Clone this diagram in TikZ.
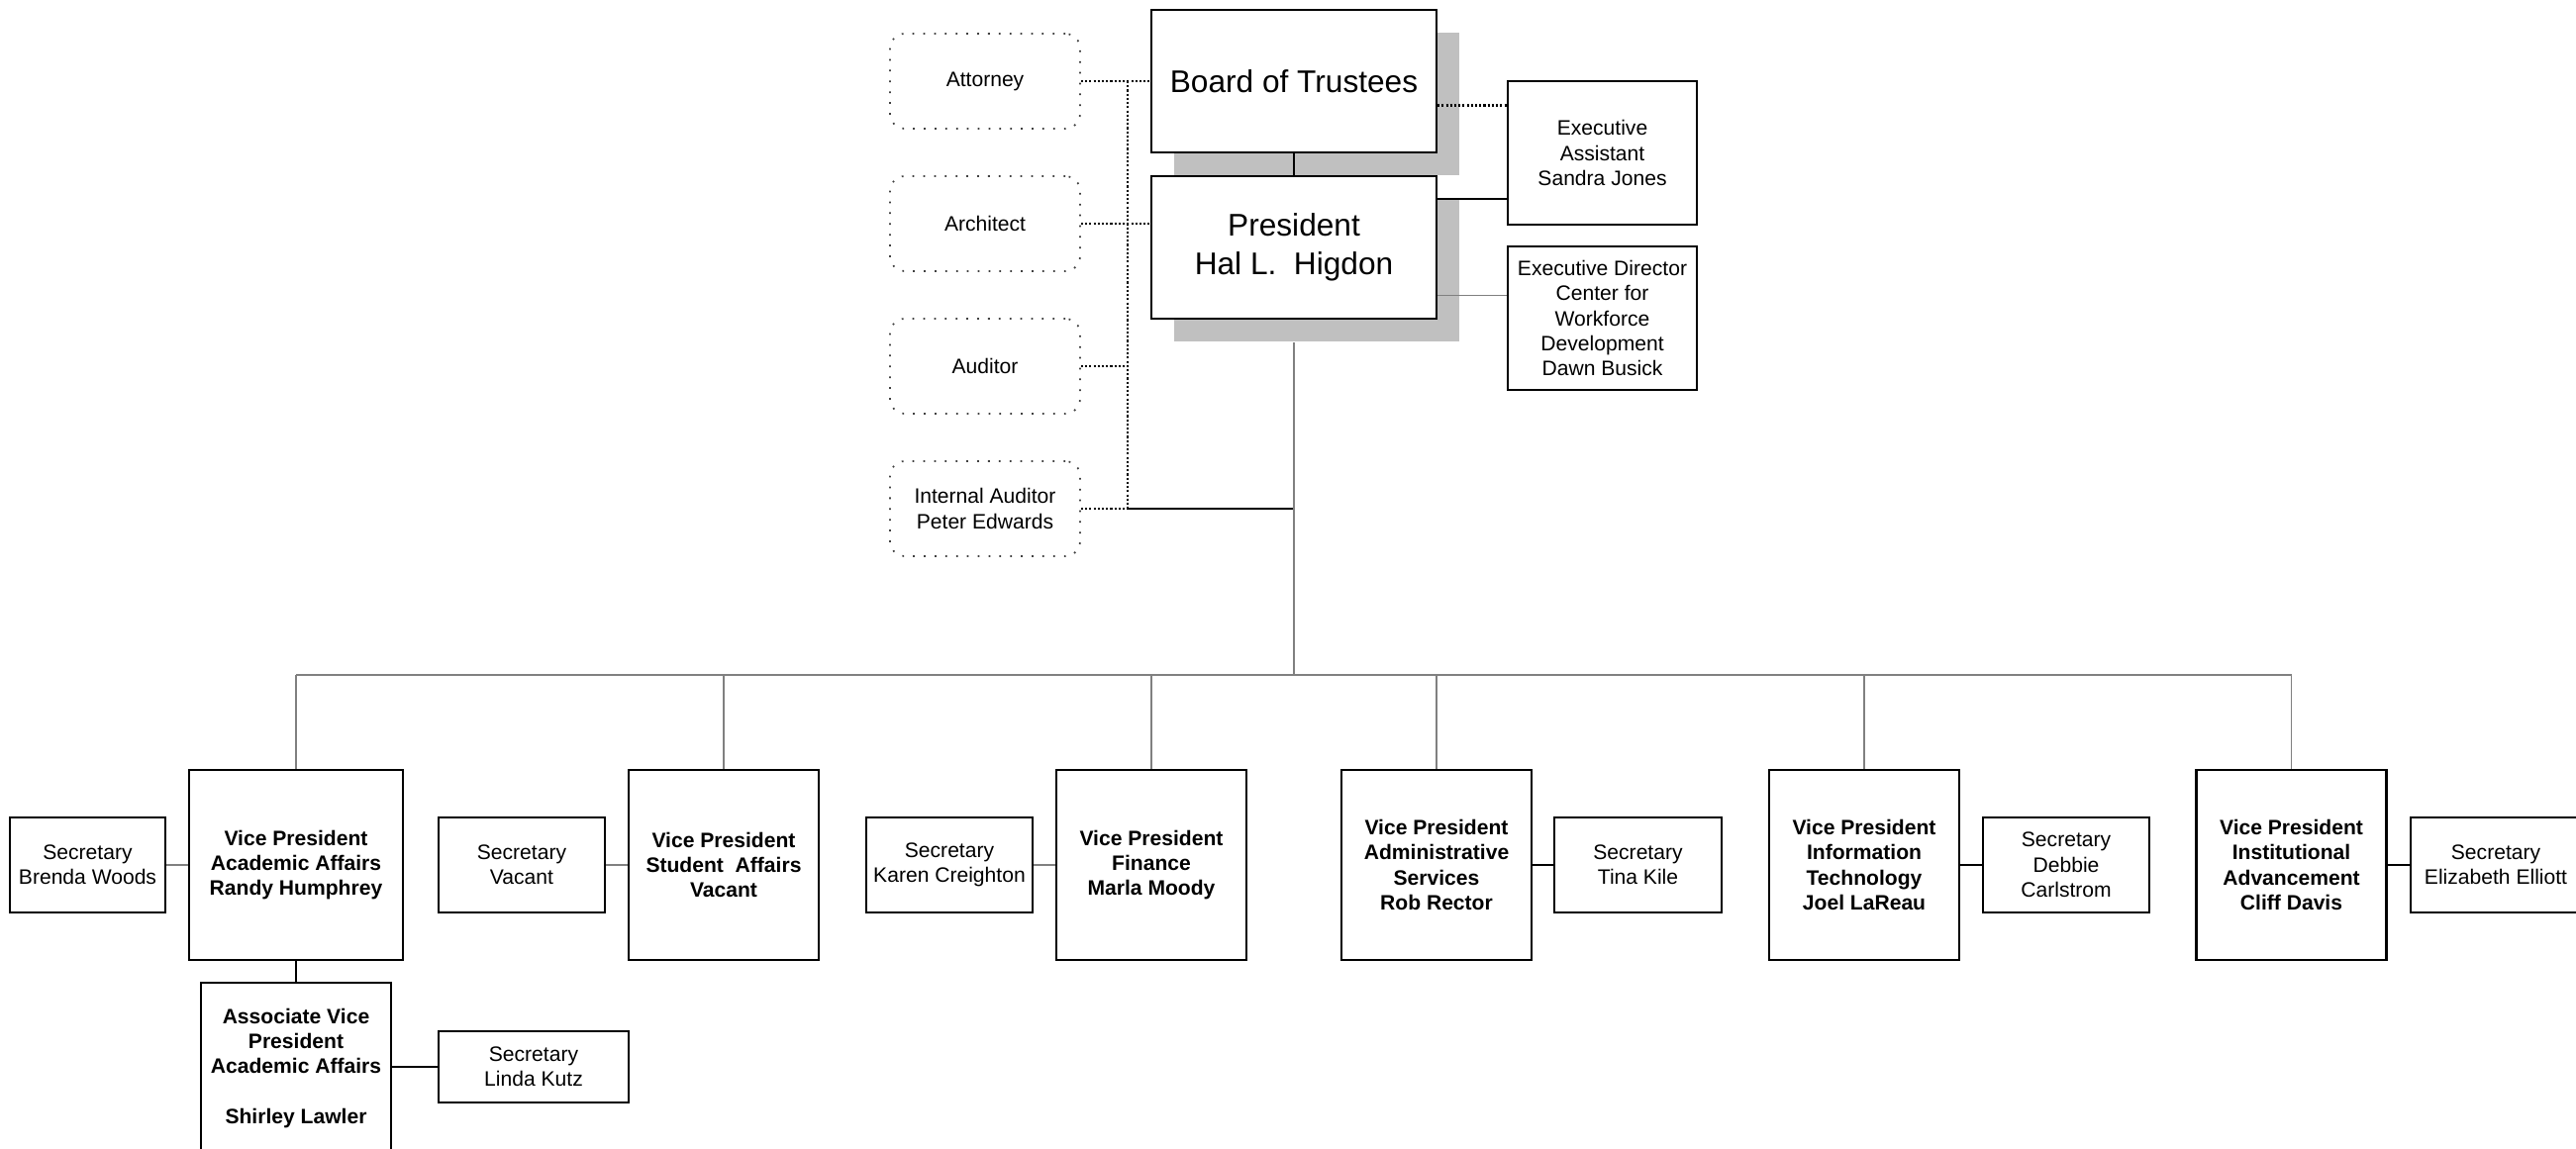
\documentclass[tikz,border=0pt]{standalone}
\usepackage{fontspec}
\setmainfont{Liberation Sans}
\usetikzlibrary{calc,shadows}
\definecolor{shadowgray}{HTML}{C0C0C0}
\definecolor{linkgray}{HTML}{808080}
\newcommand{\chartsmall}{\fontsize{6}{7.2}\selectfont}
\newcommand{\chartbig}{\fontsize{9}{11}\selectfont}

\begin{document}
\begin{tikzpicture}[
    every node/.style={font=\chartsmall},
    box/.style={draw, line width=0.6pt, fill=white, align=center, inner sep=1pt},
    topbox/.style={box, minimum width=2.88cm, minimum height=1.44cm, font=\chartbig,
        drop shadow={shadow xshift=0.23cm, shadow yshift=-0.23cm, fill=shadowgray, opacity=1}},
    staffbox/.style={box, minimum width=1.91cm, minimum height=1.45cm},
    advisor/.style={draw=black!75, line width=0.5pt, dash pattern=on 0.5pt off 2.6pt,
        rounded corners=0.15cm, align=center, minimum width=1.92cm, minimum height=0.96cm},
    vpbox/.style={box, minimum width=1.92cm, minimum height=1.92cm, font=\chartsmall\bfseries},
    secbox/.style={box, minimum height=0.96cm},
    link/.style={black, line width=0.6pt},
    greylink/.style={linkgray, line width=0.45pt},
    dotlink/.style={black, line width=0.7pt, dash pattern=on 0.6pt off 0.6pt}
]
    \useasboundingbox (0,0) rectangle (26.02,-11.60);

    % === TOP LEVEL ===
    \node[advisor] (attorney) at (9.95,-0.82) {Attorney};
    \node[advisor] (architect) at (9.95,-2.26) {Architect};
    \node[advisor] (auditor) at (9.95,-3.70) {Auditor};
    \node[advisor] (intaudit) at (9.95,-5.14) {Internal Auditor\\Peter Edwards};

    \node[topbox] (board) at (13.07,-0.82) {Board of Trustees};
    \node[topbox] (pres) at (13.07,-2.50) {President\\Hal L.\ \ Higdon};

    \node[staffbox] (asst) at (16.185,-1.545) {Executive\\Assistant\\Sandra Jones};
    \node[staffbox] (execdir) at (16.185,-3.215) {Executive Director\\Center for\\Workforce\\Development\\Dawn Busick};

    % === VICE PRESIDENTS ===
    \node[vpbox, minimum width=2.16cm] (vpacad) at (2.99,-8.74) {Vice President\\Academic Affairs\\Randy Humphrey};
    \node[vpbox] (vpstud) at (7.31,-8.74) {Vice President\\Student\ \ Affairs\\Vacant};
    \node[vpbox] (vpfin) at (11.63,-8.74) {Vice President\\Finance\\Marla Moody};
    \node[vpbox] (vpadmin) at (14.51,-8.74) {Vice President\\Administrative\\Services\\Rob Rector};
    \node[vpbox] (vpit) at (18.83,-8.74) {Vice President\\Information\\Technology\\Joel LaReau};
    \node[vpbox] (vpadv) at (23.145,-8.74) {Vice President\\Institutional\\Advancement\\Cliff Davis};

    % Secretaries
    \node[secbox, minimum width=1.57cm] (secacad) at (0.885,-8.74) {Secretary\\Brenda Woods};
    \node[secbox, minimum width=1.68cm] (secstud) at (5.27,-8.74) {Secretary\\Vacant};
    \node[secbox, minimum width=1.68cm] (secfin) at (9.59,-8.74) {Secretary\\Karen Creighton};
    \node[secbox, minimum width=1.69cm] (secadmin) at (16.545,-8.74) {Secretary\\Tina Kile};
    \node[secbox, minimum width=1.68cm] (secit) at (20.87,-8.74) {Secretary\\Debbie\\Carlstrom};
    \node[secbox, minimum width=1.72cm] (secadv) at (25.21,-8.74) {Secretary\\Elizabeth Elliott};

    % Associate level
    \node[vpbox, minimum height=1.73cm] (assoc) at (2.99,-10.795) {Associate Vice\\President\\Academic Affairs\\[7.2pt]Shirley Lawler};
    \node[box, minimum width=1.92cm, minimum height=0.72cm] (seclinda) at (5.39,-10.78) {Secretary\\Linda Kutz};

    % === CONNECTORS ===
    \coordinate (dotx) at (11.39,-0.82);
    \draw[dotlink] (attorney.east) -- (board.west);
    \draw[dotlink] (architect.east) -- (architect.east -| pres.west);
    \draw[dotlink] (auditor.east) -- (auditor.east -| dotx);
    \draw[dotlink] (intaudit.east) -- (intaudit.east -| dotx);
    \draw[dotlink] (dotx) -- (intaudit.east -| dotx);
    \draw[link] (intaudit.east -| dotx) -- (intaudit.east -| pres.south);

    \draw[link] (board) -- (pres);
    \coordinate (bt) at ($(board.north east)!0.667!(board.south east)$);
    \draw[dotlink] (bt) -- (bt -| asst.west);
    \coordinate (pa) at ($(pres.north east)!0.167!(pres.south east)$);
    \draw[link] (pa) -- (pa -| asst.west);
    \coordinate (pd) at ($(pres.north east)!0.833!(pres.south east)$);
    \draw[greylink] (pd) -- (pd -| execdir.west);

    % Bus to the vice presidents
    \coordinate (bus) at (13.07,-6.82);
    \draw[greylink] ([yshift=-0.23cm]pres.south) -- (bus);
    \draw[greylink] (vpacad.north |- bus) -- (vpadv.north |- bus);
    \foreach \vp in {vpacad,vpstud,vpfin,vpadmin,vpit,vpadv}
        \draw[greylink] (\vp.north |- bus) -- (\vp.north);

    \draw[greylink] (secacad) -- (vpacad);
    \draw[greylink] (secstud) -- (vpstud);
    \draw[greylink] (secfin) -- (vpfin);
    \draw[link] (vpadmin) -- (secadmin);
    \draw[link] (vpit) -- (secit);
    \draw[link] (vpadv) -- (secadv);
    \draw[link] (vpacad) -- (assoc);
    \draw[link] (assoc.east |- seclinda) -- (seclinda.west);
\end{tikzpicture}
\end{document}
